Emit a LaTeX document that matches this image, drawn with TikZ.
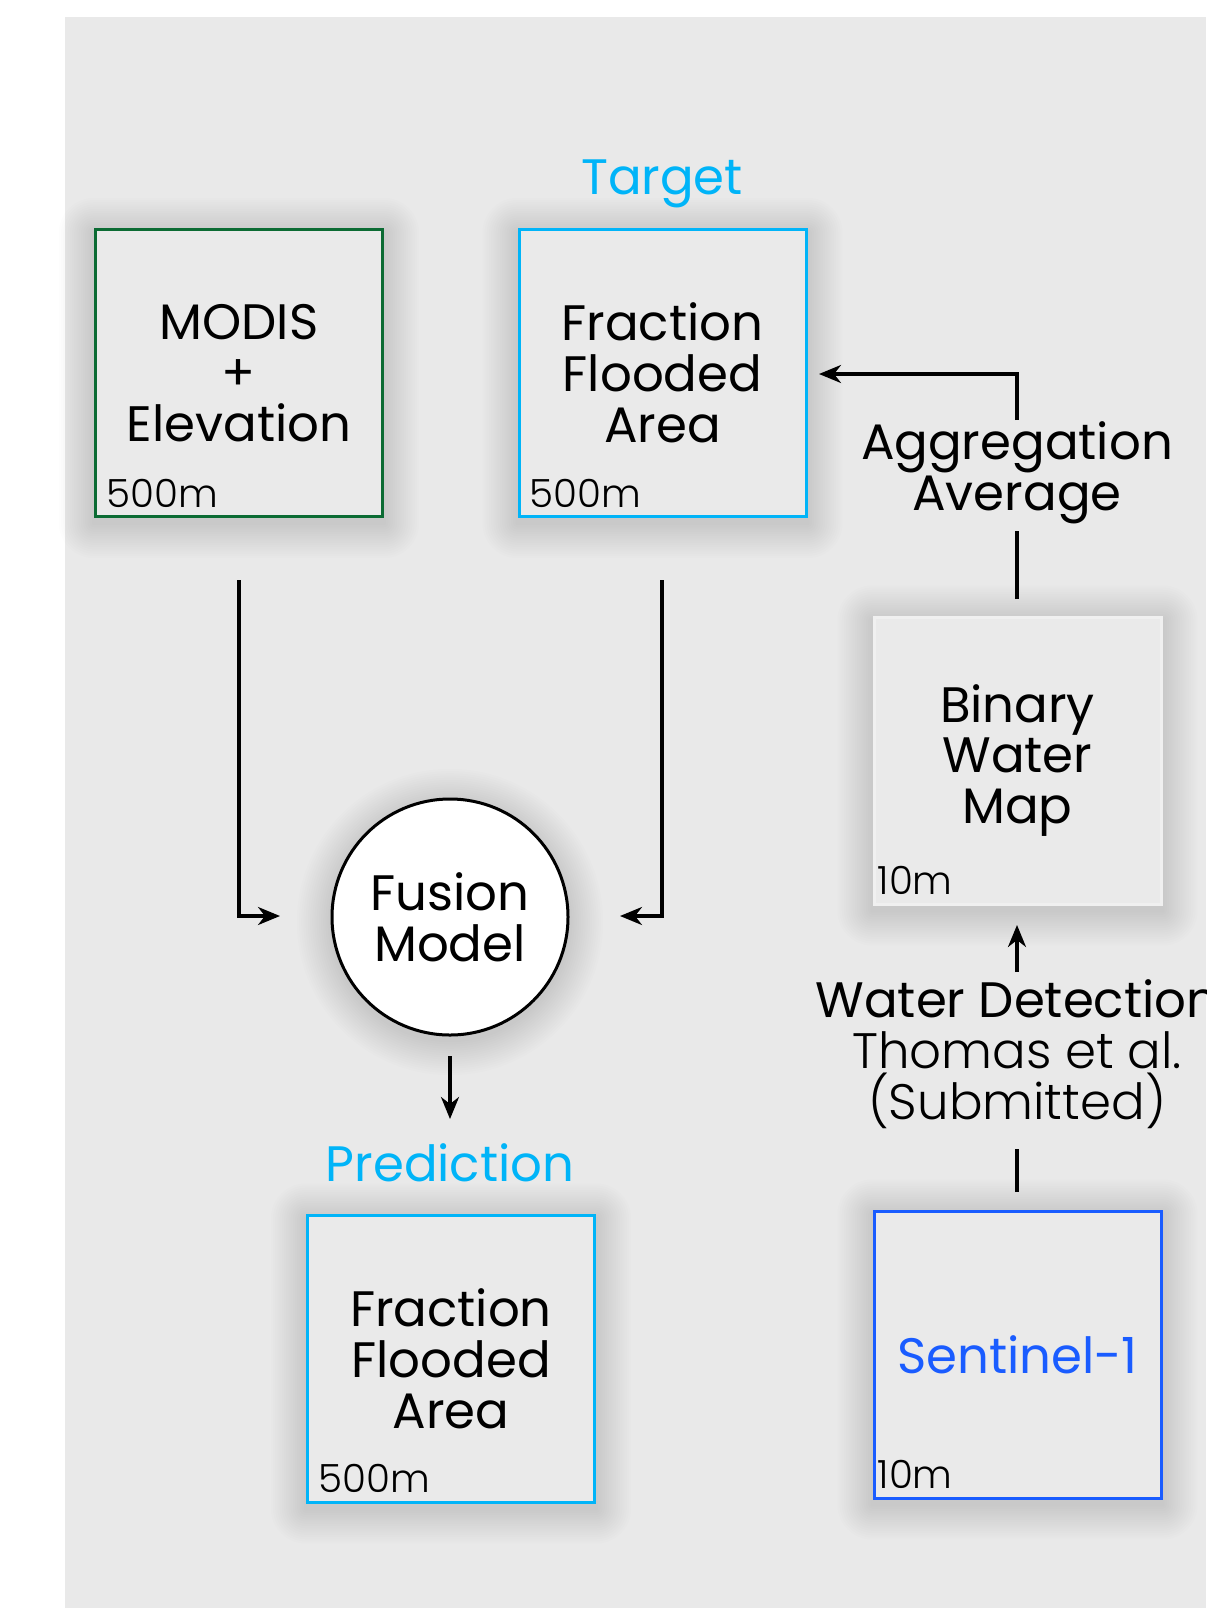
\documentclass[tikz,border=0pt]{standalone}
\usepackage{fontspec}
\setmainfont{Poppins}
\newfontfamily\lightfont{Poppins Light}
\usetikzlibrary{arrows.meta}
\definecolor{bggray}{HTML}{E9E9E9}
\definecolor{boxgray}{HTML}{EAEAEA}
\definecolor{darkgreen}{HTML}{0B6B33}
\definecolor{skyblue}{HTML}{00B4F8}
\definecolor{sentblue}{HTML}{1A5CFF}
\pgfdeclarelayer{bglayer}
\pgfdeclarelayer{shadowlayer}
\pgfsetlayers{bglayer,shadowlayer,main}
\newcommand{\rectshadow}[1]{%
  \begin{pgfonlayer}{shadowlayer}
  \foreach \i in {1,...,16} {
    \fill[black, opacity=0.0095, rounded corners={\i*2.2bp}]
      ([xshift={-\i*2.2bp}, yshift={-\i*2.2bp-5bp}]#1.south west) rectangle
      ([xshift={\i*2.2bp}, yshift={\i*2.2bp-5bp}]#1.north east);
  }
  \end{pgfonlayer}}
\newcommand{\circshadow}[1]{%
  \begin{pgfonlayer}{shadowlayer}
  \foreach \i in {1,...,16} {
    \fill[black, opacity=0.0095] ([yshift=-5bp]#1.center) circle[radius={118bp+\i*2.2bp}];
  }
  \end{pgfonlayer}}
\begin{document}
\begin{tikzpicture}[x=1bp,y=-1bp,
  every node/.style={font=\fontsize{50}{51}\selectfont, align=center, inner sep=0pt},
  databox/.style={minimum width=287bp, minimum height=287bp, fill=boxgray, line width=3bp},
  sizelabel/.style={anchor=base west, font=\lightfont\fontsize{39}{40}\selectfont},
  bluelabel/.style={text=skyblue},
  conn/.style={line width=3.2bp, draw=black},
  arr/.style={conn, -{Stealth[length=22bp,width=18bp,inset=7bp]}}
]
\useasboundingbox (0,0) rectangle (1206,1608);
\begin{pgfonlayer}{bglayer}
\fill[white] (0,0) rectangle (1206,1608);
\fill[bggray] (65,17) rectangle (1206,1608);
\end{pgfonlayer}

% boxes
\node[databox, draw=darkgreen] (modis) at (239,373) {MODIS\\+\\Elevation};
\node[databox, draw=skyblue] (target) at (662.5,373) {Fraction\\Flooded\\Area};
\node[databox, draw=black!6] (binary) at (1017.5,760.5) {Binary\\Water\\Map};
\node[databox, draw=sentblue, text=sentblue] (sentinel) at (1017.5,1354.5) {Sentinel-1};
\node[databox, draw=skyblue] (pred) at (451,1358.5) {Fraction\\Flooded\\Area};
\node[circle, minimum size=236bp, fill=white, draw=black, line width=3bp]
  (fusion) at (450,917) {Fusion\\Model};

\rectshadow{modis}
\rectshadow{target}
\rectshadow{binary}
\rectshadow{sentinel}
\rectshadow{pred}
\circshadow{fusion}

% size labels
\node[sizelabel] (s1) at ([xshift=12bp,yshift=11bp]modis.south west) {500m};
\node[sizelabel] (s2) at ([xshift=12bp,yshift=11bp]target.south west) {500m};
\node[sizelabel] (s3) at ([xshift=5bp,yshift=11bp]binary.south west) {10m};
\node[sizelabel] (s4) at ([xshift=5bp,yshift=11bp]sentinel.south west) {10m};
\node[sizelabel] (s5) at ([xshift=12bp,yshift=11bp]pred.south west) {500m};

% titles
\node[bluelabel] (ttarget) at (662,184) {Target};
\node[bluelabel] (tpred) at (450,1163) {Prediction};

% process labels
\node (agg) at (1017,473) {Aggregation\\Average};
\node (wd) at (1017,1054) {Water Detection\\{\lightfont Thomas et al.}\\{\lightfont (Submitted)}};

% connectors
\coordinate (a1) at (239,580);
\coordinate (a2) at (239,916);
\coordinate (a3) at (280,916);
\draw[arr] (a1) -- (a2) -- (a3);

\coordinate (b1) at (662,580);
\coordinate (b2) at (662,916);
\coordinate (b3) at (620,916);
\draw[arr] (b1) -- (b2) -- (b3);

\coordinate (c1) at (450,1056);
\coordinate (c2) at (450,1119);
\draw[arr] (c1) -- (c2);

\coordinate (d1) at (1017,599);
\coordinate (d2) at (1017,531);
\draw[conn] (d1) -- (d2);
\coordinate (d3) at (1017,420);
\coordinate (d4) at (1017,374);
\coordinate (d5) at (819,374);
\draw[arr] (d3) -- (d4) -- (d5);

\coordinate (e1) at (1017,1192);
\coordinate (e2) at (1017,1149);
\draw[conn] (e1) -- (e2);
\coordinate (e3) at (1017,972);
\coordinate (e4) at (1017,925);
\draw[arr] (e3) -- (e4);
\end{tikzpicture}
\end{document}
